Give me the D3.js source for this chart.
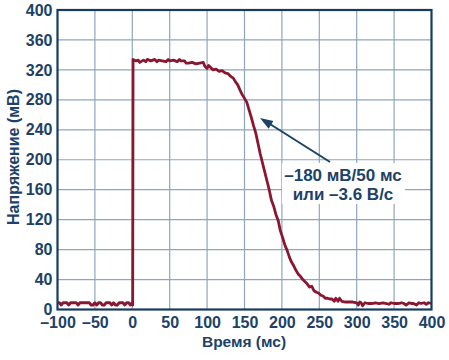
<!DOCTYPE html>
<html><head><meta charset="utf-8">
<script src="https://cdn.jsdelivr.net/npm/d3@7"></script>
<style>body{margin:0;background:#fff}svg{display:block}text{font-family:"Liberation Sans",Arial,sans-serif;font-weight:bold}</style>
</head><body><svg id="c" width="449" height="360"></svg>
<script>
const xTicks=[-100,-50,0,50,100,150,200,250,300,350,400];
const yTicks=[0,40,80,120,160,200,240,280,320,360,400];
const xTitle="Время (мс)";
const yTitle="Напряжение (мВ)";
const noteLines=["–180 мВ/50 мс","или –3.6 В/с"];
const times=[-100,-97.5,-95,-92.5,-90,-87.5,-85,-82.5,-80,-77.5,-75,-72.5,-70,-67.5,-65,-62.5,-60,-57.5,-55,-52.5,-50,-47.5,-45,-42.5,-40,-37.5,-35,-32.5,-30,-27.5,-25,-22.5,-20,-17.5,-15,-12.5,-10,-7.5,-5,-2.5,0,
0.5,1,5,8,10,15,18,20,25,30,33,35,40,45,48,50,55,60,63,65,70,
72,75,80,85,90,95,97,100,102,105,108,112,116,120,124,128,132,135,138,141,144,147,150,153,156,159,162,165,168,171,174,177,180,183,186,189,192,195,198,201,204,207,210,213,216,219,222,225,228,231,234,237,240,243,246,249,252,255,258,261,264,267,270,272,275,277,280,285,290,295,300,302,304,306,308,311,315,320,325,330,335,340,343,346,350,355,360,363,366,370,373,376,380,383,386,390,393,396,400];
const volts=[9,9,6,9,9,9,6,9,9,9,9,6,9,9,9,9,9,9,6,6,9,6,9,9,6,6,9,9,9,6,9,6,6,9,9,9,6,9,9,6,9,
6,334,332,333,330,333,331,334,332,334,331,333,332,331,334,332,333,331,334,332,332,
329,329,330,328,329,330,325,322,326,323,320,321,318,319,316,315,311,309,304,300,293,287,282,277,267,257,246,236,222,208,196,184,172,160,146,138,127,119,105,96,86,79,70,63,58,52,47,44,40,37,34,30,31,25,23,22,19,18,15,15,14,14,11,15,11,15,11,10,10,10,9,6,10,9,5,9,8,8,9,8,9,8,7,9,8,8,9,8,6,9,8,8,6,9,8,9,7,9,8,9];

const svg=d3.select("#c");
const L=57.5,R=431.5,T=10,B=309.5;
const x=d3.scaleLinear().domain([-100,400]).range([L,R]);
const y=d3.scaleLinear().domain([0,400]).range([B,T]);
const grid="#8ea6bc", navy="#1c4268", frame="#163b60";

svg.append("g").selectAll("line").data(xTicks.slice(1,-1)).join("line")
 .attr("x1",d=>x(d)).attr("x2",d=>x(d)).attr("y1",T).attr("y2",B)
 .attr("stroke",grid).attr("stroke-width",1.2);
svg.append("g").selectAll("line").data(yTicks.slice(1,-1)).join("line")
 .attr("y1",d=>y(d)).attr("y2",d=>y(d)).attr("x1",L).attr("x2",R)
 .attr("stroke",grid).attr("stroke-width",1.2);

svg.append("rect").attr("x",282).attr("y",163).attr("width",123).attr("height",41).attr("fill","#fff");
svg.append("g").selectAll("text").data(noteLines).join("text")
 .attr("x",343).attr("y",(d,i)=>181+i*19).attr("text-anchor","middle")
 .attr("font-size",17).attr("fill",navy).text(d=>d);

svg.append("line").attr("x1",330).attr("y1",162).attr("x2",266).attr("y2",121.5)
 .attr("stroke",navy).attr("stroke-width",2);
{const tx=260,ty=118,ang=Math.atan2(162-118,330-260),len=13,w=4.5;
 const bx=tx+len*Math.cos(ang),by=ty+len*Math.sin(ang);
 const px=-Math.sin(ang)*w,py=Math.cos(ang)*w;
 svg.append("path").attr("d",`M${tx},${ty}L${bx+px},${by+py}L${bx-px},${by-py}Z`).attr("fill",navy);}

const pts=times.map((t,i)=>[t,volts[i]]);
svg.append("path").datum(pts).attr("fill","none").attr("stroke","#8a1730")
 .attr("stroke-width",2.8).attr("stroke-linejoin","round")
 .attr("d",d3.line().x(d=>x(d[0])).y(d=>y(d[1])));

svg.append("rect").attr("x",L).attr("y",T).attr("width",R-L).attr("height",B-T)
 .attr("fill","none").attr("stroke",frame).attr("stroke-width",2.2);

const xa=svg.append("g").attr("transform",`translate(0,${B})`)
 .call(d3.axisBottom(x).tickValues(xTicks).tickSize(0).tickPadding(7).tickFormat(d=>d<0?"–"+Math.abs(d):d));
xa.select(".domain").remove();
xa.selectAll("text").attr("font-size",16).attr("fill",navy).attr("font-family",null);
const ya=svg.append("g").attr("transform",`translate(${L},0)`)
 .call(d3.axisLeft(y).tickValues(yTicks).tickSize(0).tickPadding(5));
ya.select(".domain").remove();
ya.selectAll("text").attr("font-size",16).attr("fill",navy).attr("font-family",null);

svg.append("text").attr("x",244).attr("y",346.5).attr("text-anchor","middle")
 .attr("font-size",15.5).attr("fill",navy).text(xTitle);
svg.append("text").attr("transform",`translate(19,157) rotate(-90)`).attr("text-anchor","middle")
 .attr("font-size",16).attr("fill",navy).text(yTitle);
</script></body></html>
